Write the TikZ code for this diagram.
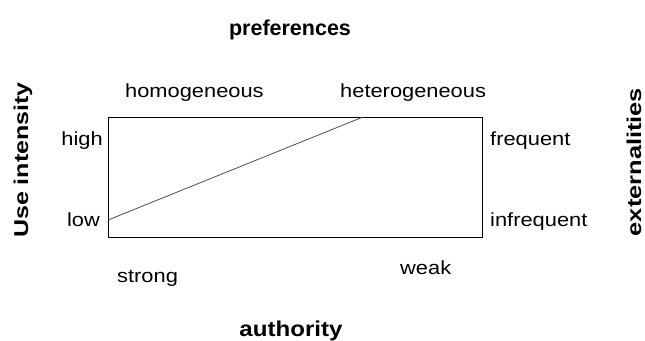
\documentclass[tikz,border=0pt]{standalone}
\usepackage{fontspec}
\setmainfont{Liberation Sans}
\newcommand{\sx}[2]{\scalebox{#1}[1]{#2}}
\begin{document}
\begin{tikzpicture}[x=1pt,y=1pt,
  lbl/.style={inner sep=0pt,font=\fontsize{19}{22}\selectfont},
  ttl/.style={inner sep=0pt,font=\fontsize{21.5}{24}\selectfont\bfseries},
  side/.style={inner sep=0pt,font=\fontsize{20}{22}\selectfont\bfseries,rotate=90}]
\useasboundingbox (0,0) rectangle (645,-340);
\node[draw,line width=0.8pt,minimum width=374pt,minimum height=120pt,inner sep=0pt,anchor=north west] (box) at (108,-117) {};
\coordinate (lo) at (108,-220);
\coordinate (hi) at (363,-117);
\draw[line width=0.8pt,black!70] (lo) -- (hi);
\node[ttl,anchor=base] (pref) at (290,-35) {preferences};
\node[lbl,anchor=base west] (homo) at (125,-97) {\sx{1.15}{homogeneous}};
\node[lbl,anchor=base west] (hetero) at (340,-97) {\sx{1.15}{heterogeneous}};
\node[lbl,anchor=base east] (high) at (103,-145) {\sx{1.15}{high}};
\node[lbl,anchor=base east] (low) at (100,-226) {\sx{1.15}{low}};
\node[lbl,anchor=base west] (freq) at (490,-145) {\sx{1.15}{frequent}};
\node[lbl,anchor=base west] (infreq) at (490,-226) {\sx{1.15}{infrequent}};
\node[lbl,anchor=base west] (strong) at (117,-282) {\sx{1.15}{strong}};
\node[lbl,anchor=base west] (weak) at (400,-274) {\sx{1.15}{weak}};
\node[ttl,anchor=base] (auth) at (291,-336) {\sx{1.12}{authority}};
\node[side] (use) at (23,-160) {\sx{1.25}{Use intensity}};
\node[side] (ext) at (634,-162) {\sx{1.27}{externalities}};
\end{tikzpicture}
\end{document}
